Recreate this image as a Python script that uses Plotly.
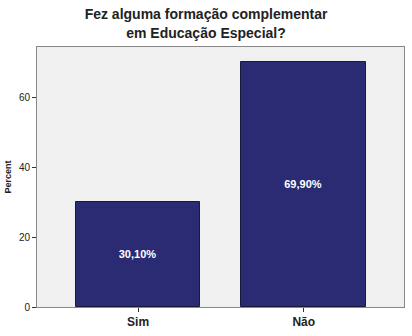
import plotly.graph_objects as go

categories = ["Sim", "Não"]
values = [30.1, 69.9]
labels = ["30,10%", "69,90%"]
y_ticks = [0, 20, 40, 60]

fig = go.Figure()
fig.add_trace(go.Bar(
    x=categories, y=values, text=labels, textposition="inside",
    insidetextanchor="middle",
    textfont=dict(family="Liberation Sans", size=11, color="white"),
    marker=dict(color="#2a2b72", line=dict(color="#1a1a3a", width=1)),
    width=0.753,
))
fig.update_traces(texttemplate="<b>%{text}</b>")
fig.update_layout(
    width=412, height=336,
    margin=dict(l=37, r=7, t=47, b=27),
    paper_bgcolor="white", plot_bgcolor="#f0f0f0",
    title=dict(text="<b>Fez alguma formação complementar<br>em Educação Especial?</b>",
               x=0.5, xanchor="center", y=0.942, yanchor="top",
               font=dict(family="Liberation Sans", size=14, color="#222")),
    font=dict(family="Liberation Sans", color="#222"),
    showlegend=False,
    xaxis=dict(range=[-0.61, 1.605], showgrid=False, ticks="outside", ticklen=4,
               tickcolor="#333", showline=True, linecolor="#888", mirror=True,
               tickfont=dict(size=12, family="Liberation Sans"),
               tickprefix="<b>", ticksuffix="</b>"),
    yaxis=dict(range=[0, 74.3], tickvals=y_ticks, showgrid=False, ticks="outside",
               ticklen=4, tickcolor="#333", showline=True, linecolor="#888", mirror=True,
               tickfont=dict(size=10, family="Liberation Sans"),
               tickprefix="<b>", ticksuffix="</b>", zeroline=False,
               title=dict(text="<b>Percent</b>", font=dict(size=9), standoff=5)),
    bargap=0,
)
fig.write_html("out.html")
